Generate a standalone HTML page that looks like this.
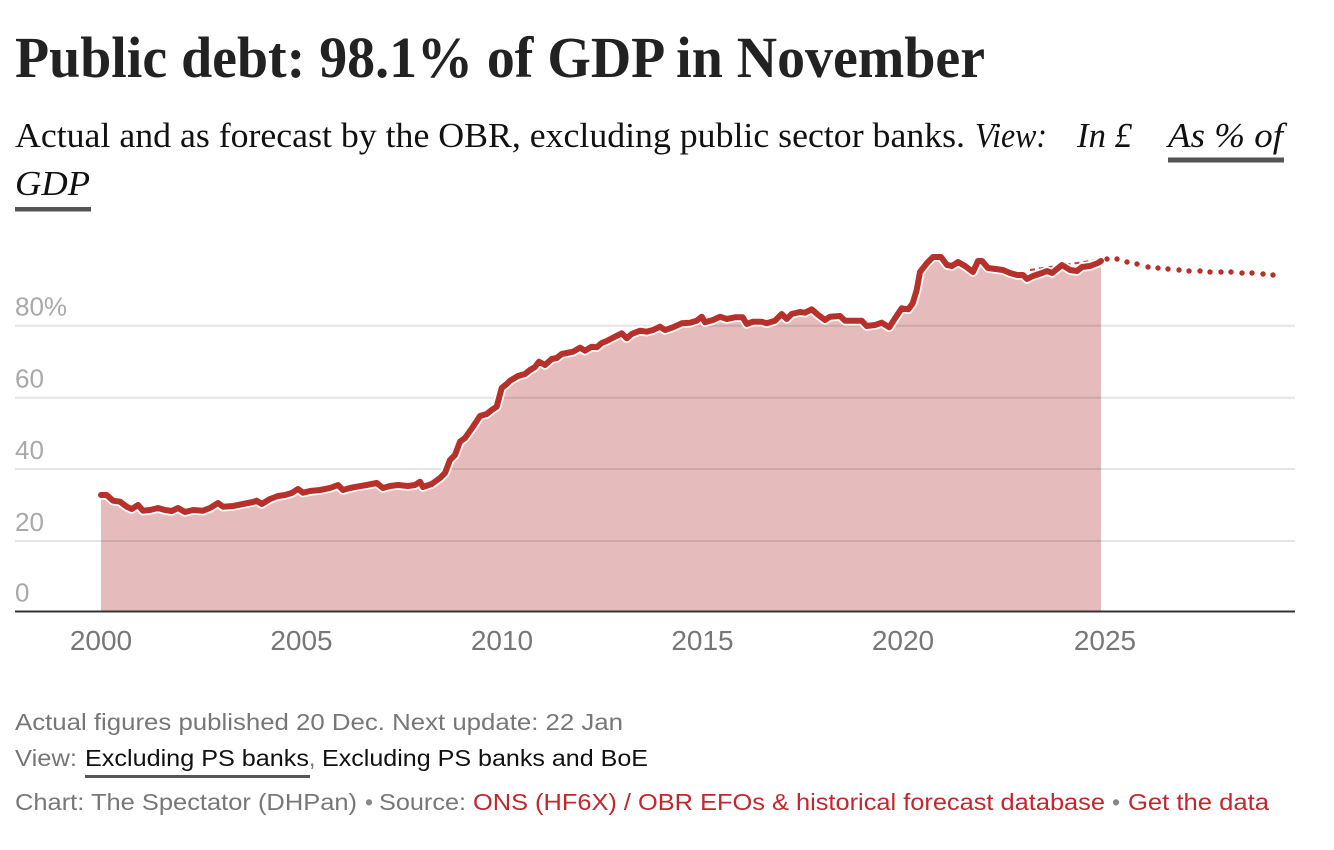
<!DOCTYPE html>
<html><head><meta charset="utf-8"><style>
html,body{margin:0;padding:0;background:#fff;}
svg{display:block;}
.ser{font-family:"Liberation Serif",serif;}
.san{font-family:"Liberation Sans",sans-serif;}
</style></head><body>
<svg width="1334" height="850" viewBox="0 0 1334 850" xmlns="http://www.w3.org/2000/svg">
<text class="ser" x="15" y="77" font-size="58" font-weight="bold" fill="#222" textLength="970" lengthAdjust="spacingAndGlyphs">Public debt: 98.1% of GDP in November</text>
<text class="ser" x="15" y="147" font-size="35" fill="#111" textLength="950" lengthAdjust="spacingAndGlyphs">Actual and as forecast by the OBR, excluding public sector banks.</text>
<text class="ser" x="975" y="147" font-size="35" font-style="italic" fill="#111" textLength="72" lengthAdjust="spacingAndGlyphs">View:</text>
<text class="ser" x="1077" y="147" font-size="35" font-style="italic" fill="#111" textLength="55" lengthAdjust="spacingAndGlyphs">In £</text>
<text class="ser" x="1168" y="147" font-size="35" font-style="italic" fill="#111" textLength="115" lengthAdjust="spacingAndGlyphs">As % of</text>
<rect x="1168" y="157.5" width="116" height="5" fill="#555"/>
<text class="ser" x="15" y="195" font-size="35" font-style="italic" fill="#111" textLength="75" lengthAdjust="spacingAndGlyphs">GDP</text>
<rect x="15" y="207" width="76" height="4.5" fill="#555"/>

<path fill="#e5bcbb" d="M101,611.5 L101,495 106.7,495 113,500.7 120,501.7 126.7,506.7 131.7,509 138,505 143,510.7 150,510 158,508 165,510 171.7,511 178,508 185,512 193,510 203,510.7 210,508 218,503 223,506.7 233,506 243,504 253,502 256.7,500.7 261.7,504 270,499 278,496 285,495 291.7,493 298,489 303,492.7 310,491 320,490 330,488 338,485 343,490 350,488 356.7,486.7 366.7,485 376.7,483 383,488 390,486 398,485 408,486 415,485 420,481.7 423,487 431.7,484 440,478 445,473 450,460 455,455 460,441.7 465,438 473,426.7 480,416 486.7,414 491.7,410 496.7,406.7 501.7,388 506.7,384 510,380.7 518,376 525,374 530,370 535,367 539,361.7 545,365 551.7,359 556.7,358 561.7,354 566.7,353 573,351.7 580,347.7 585,350.7 591.7,346.7 596.7,347.3 601.7,343 606.7,341 615,336.7 621.7,333.3 626.7,338.3 631.7,334 640,330.7 646.7,331.7 653,330 660,326.7 665,330 673,327.3 681.7,323.3 690,322.7 696.7,320.7 701.7,316.7 705,322.3 713,320 720,316.7 726.7,319 735,317.3 742.7,317.3 746.7,324 753,321.7 761.7,321.7 766.7,323.3 775,320.7 781.7,314 786.7,319 791.7,314 800,312 805,312.7 811.7,309.3 818.3,315 825,320 830,316.7 840,316 845,320.7 861.7,320.7 866.7,326 875,325 881.7,322.7 889.3,327.3 895,318.3 901.7,308.3 908.3,309.3 912.7,303.3 916.7,290 920,272 927,263 933,257 941,257 947,265 952,266 958,262 965,266 973,272 978,261 982,261 988,268 1003,270 1010,273 1017,275 1023,275 1027,279 1033,276 1042,273 1047,271 1052,273 1062,265 1070,270 1077,271 1082,267 1090,266 1098,263 1101,261 L1101,611.5 Z"/>

<g stroke="rgba(0,0,0,0.1)" stroke-width="2">
<line x1="15" y1="325.7" x2="1295" y2="325.7"/>
<line x1="15" y1="397.7" x2="1295" y2="397.7"/>
<line x1="15" y1="469" x2="1295" y2="469"/>
<line x1="15" y1="541" x2="1295" y2="541"/>
</g>
<line x1="15" y1="611.5" x2="1295" y2="611.5" stroke="#333" stroke-width="2"/>

<g class="san" font-size="26" fill="#a9a9a9">
<text x="15" y="315.5">80%</text>
<text x="15" y="387.5">60</text>
<text x="15" y="459">40</text>
<text x="15" y="531">20</text>
<text x="15" y="601.5">0</text>
</g>

<polyline fill="none" stroke="#c0403a" stroke-width="2" stroke-dasharray="5 4" points="1030,270 1050,267 1070,264 1090,261 1101,259"/>

<polyline fill="none" stroke="#fff" stroke-width="9.5" stroke-linejoin="round" stroke-linecap="round" points="101,495 106.7,495 113,500.7 120,501.7 126.7,506.7 131.7,509 138,505 143,510.7 150,510 158,508 165,510 171.7,511 178,508 185,512 193,510 203,510.7 210,508 218,503 223,506.7 233,506 243,504 253,502 256.7,500.7 261.7,504 270,499 278,496 285,495 291.7,493 298,489 303,492.7 310,491 320,490 330,488 338,485 343,490 350,488 356.7,486.7 366.7,485 376.7,483 383,488 390,486 398,485 408,486 415,485 420,481.7 423,487 431.7,484 440,478 445,473 450,460 455,455 460,441.7 465,438 473,426.7 480,416 486.7,414 491.7,410 496.7,406.7 501.7,388 506.7,384 510,380.7 518,376 525,374 530,370 535,367 539,361.7 545,365 551.7,359 556.7,358 561.7,354 566.7,353 573,351.7 580,347.7 585,350.7 591.7,346.7 596.7,347.3 601.7,343 606.7,341 615,336.7 621.7,333.3 626.7,338.3 631.7,334 640,330.7 646.7,331.7 653,330 660,326.7 665,330 673,327.3 681.7,323.3 690,322.7 696.7,320.7 701.7,316.7 705,322.3 713,320 720,316.7 726.7,319 735,317.3 742.7,317.3 746.7,324 753,321.7 761.7,321.7 766.7,323.3 775,320.7 781.7,314 786.7,319 791.7,314 800,312 805,312.7 811.7,309.3 818.3,315 825,320 830,316.7 840,316 845,320.7 861.7,320.7 866.7,326 875,325 881.7,322.7 889.3,327.3 895,318.3 901.7,308.3 908.3,309.3 912.7,303.3 916.7,290 920,272 927,263 933,257 941,257 947,265 952,266 958,262 965,266 973,272 978,261 982,261 988,268 1003,270 1010,273 1017,275 1023,275 1027,279 1033,276 1042,273 1047,271 1052,273 1062,265 1070,270 1077,271 1082,267 1090,266 1098,263 1101,261"/>
<polyline fill="none" stroke="#b8302a" stroke-width="6" stroke-linejoin="round" stroke-linecap="round" points="101,495 106.7,495 113,500.7 120,501.7 126.7,506.7 131.7,509 138,505 143,510.7 150,510 158,508 165,510 171.7,511 178,508 185,512 193,510 203,510.7 210,508 218,503 223,506.7 233,506 243,504 253,502 256.7,500.7 261.7,504 270,499 278,496 285,495 291.7,493 298,489 303,492.7 310,491 320,490 330,488 338,485 343,490 350,488 356.7,486.7 366.7,485 376.7,483 383,488 390,486 398,485 408,486 415,485 420,481.7 423,487 431.7,484 440,478 445,473 450,460 455,455 460,441.7 465,438 473,426.7 480,416 486.7,414 491.7,410 496.7,406.7 501.7,388 506.7,384 510,380.7 518,376 525,374 530,370 535,367 539,361.7 545,365 551.7,359 556.7,358 561.7,354 566.7,353 573,351.7 580,347.7 585,350.7 591.7,346.7 596.7,347.3 601.7,343 606.7,341 615,336.7 621.7,333.3 626.7,338.3 631.7,334 640,330.7 646.7,331.7 653,330 660,326.7 665,330 673,327.3 681.7,323.3 690,322.7 696.7,320.7 701.7,316.7 705,322.3 713,320 720,316.7 726.7,319 735,317.3 742.7,317.3 746.7,324 753,321.7 761.7,321.7 766.7,323.3 775,320.7 781.7,314 786.7,319 791.7,314 800,312 805,312.7 811.7,309.3 818.3,315 825,320 830,316.7 840,316 845,320.7 861.7,320.7 866.7,326 875,325 881.7,322.7 889.3,327.3 895,318.3 901.7,308.3 908.3,309.3 912.7,303.3 916.7,290 920,272 927,263 933,257 941,257 947,265 952,266 958,262 965,266 973,272 978,261 982,261 988,268 1003,270 1010,273 1017,275 1023,275 1027,279 1033,276 1042,273 1047,271 1052,273 1062,265 1070,270 1077,271 1082,267 1090,266 1098,263 1101,261"/>

<g fill="#b8302a">
<circle cx="1107" cy="259" r="2.7"/><circle cx="1117" cy="259" r="2.7"/><circle cx="1127" cy="262" r="2.7"/><circle cx="1137" cy="264" r="2.7"/><circle cx="1148" cy="267" r="2.7"/><circle cx="1158" cy="268" r="2.7"/><circle cx="1168" cy="269" r="2.7"/><circle cx="1179" cy="270" r="2.7"/><circle cx="1189" cy="271" r="2.7"/><circle cx="1200" cy="271" r="2.7"/><circle cx="1210" cy="272" r="2.7"/><circle cx="1221" cy="272" r="2.7"/><circle cx="1231" cy="272" r="2.7"/><circle cx="1242" cy="273" r="2.7"/><circle cx="1252" cy="273" r="2.7"/><circle cx="1263" cy="274" r="2.7"/><circle cx="1273" cy="275" r="2.7"/>
</g>

<g class="san" font-size="28" fill="#777" text-anchor="middle">
<text x="101" y="650">2000</text>
<text x="301.5" y="650">2005</text>
<text x="502" y="650">2010</text>
<text x="702.5" y="650">2015</text>
<text x="903" y="650">2020</text>
<text x="1105" y="650">2025</text>
</g>

<g class="san" font-size="23">
<text x="15" y="730" fill="#777" textLength="608" lengthAdjust="spacingAndGlyphs">Actual figures published 20 Dec. Next update: 22 Jan</text>
<text x="15" y="766" fill="#777" textLength="62" lengthAdjust="spacingAndGlyphs">View:</text>
<text x="85" y="766" fill="#111" textLength="224" lengthAdjust="spacingAndGlyphs">Excluding PS banks</text>
<text x="309" y="766" fill="#777">,</text>
<text x="322" y="766" fill="#111" textLength="326" lengthAdjust="spacingAndGlyphs">Excluding PS banks and BoE</text>
<rect x="85" y="775" width="225" height="3" fill="#555"/>
<text x="15" y="810" fill="#777" textLength="342" lengthAdjust="spacingAndGlyphs">Chart: The Spectator (DHPan)</text>
<text x="365" y="810" fill="#888">•</text>
<text x="379" y="810" fill="#777" textLength="87" lengthAdjust="spacingAndGlyphs">Source:</text>
<text x="473" y="810" fill="#c1272d" textLength="632" lengthAdjust="spacingAndGlyphs">ONS (HF6X) / OBR EFOs &amp; historical forecast database</text>
<text x="1112" y="810" fill="#888">•</text>
<text x="1128" y="810" fill="#c1272d" textLength="141" lengthAdjust="spacingAndGlyphs">Get the data</text>
</g>
</svg>
</body></html>
